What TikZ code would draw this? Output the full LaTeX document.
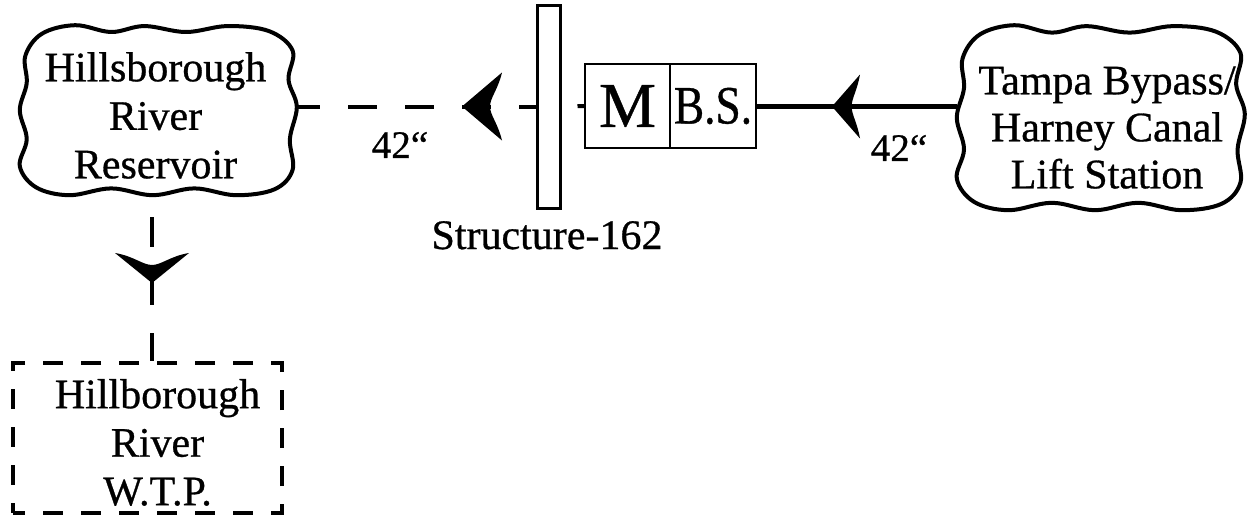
\documentclass[tikz,border=0pt]{standalone}
\usepackage{fontspec}
\setmainfont{Liberation Serif}[FakeBold=0.7]
\tikzset{
  lbl/.style={font=\fontsize{42}{48.5}\selectfont, align=center, inner sep=0pt},
  cloudline/.style={line width=4pt, line join=round},
  pipe/.style={line width=4pt},
  dashpipe/.style={pipe, dash pattern=on 29pt off 28pt},
  boxpart/.style={draw, line width=2pt, inner sep=0pt, minimum height=84pt},
  qlabel/.style={font=\fontsize{39}{39}\selectfont, inner sep=0pt},
  pics/fishtip/.style n args={3}{code={
    \fill (0,0) .. controls ({-0.3*#1},{0.3*#2}) and ({-0.7*#1},{0.7*#2}) .. ({-#1},{#2})
      .. controls ({-0.9*#1},{0.5*#2}) and ({-#3*#1},{0.25*#2}) .. ({-#3*#1},0)
      .. controls ({-#3*#1},{-0.25*#2}) and ({-0.9*#1},{-0.5*#2}) .. ({-#1},{-#2})
      .. controls ({-0.7*#1},{-0.7*#2}) and ({-0.3*#1},{-0.3*#2}) .. (0,0) -- cycle;
  }}
}
\newcommand{\cloudpts}{(0.02,0.82) (0.08,0.95) (0.2,1.0) (0.33,0.96) (0.45,0.995) (0.6,0.96) (0.75,0.995) (0.9,0.965) (0.985,0.85) (0.97,0.68) (1.0,0.52) (0.975,0.33) (0.985,0.15) (0.92,0.035) (0.78,0.0) (0.63,0.04) (0.48,0.0) (0.33,0.04) (0.18,0.0) (0.06,0.045) (0.0,0.17) (0.025,0.33) (0.0,0.5) (0.025,0.66)}
\begin{document}
\begin{tikzpicture}[x=1pt,y=1pt]
\fill[white] (0,0) rectangle (1247,-522);
\useasboundingbox (0,0) rectangle (1247,-522);

% clouds (text nodes + outlines)
\node[lbl, minimum width=277pt, minimum height=170pt] (res) at (158.5,-110)
  {\rule{0pt}{40pt}\hspace*{-6pt}Hillsborough\\\hspace*{-6pt}River\\\hspace*{-6pt}Reservoir};
\node[lbl, font=\fontsize{42}{47}\selectfont, minimum width=288pt, minimum height=185pt] (lift) at (1101,-117.5)
  {\rule{0pt}{48pt}\hspace*{12pt}Tampa Bypass/\\\hspace*{12pt}Harney Canal\\\hspace*{12pt}Lift Station};
\begin{scope}[shift={(res.south west)}, xscale=277, yscale=170]
  \draw[cloudline] plot[smooth cycle, tension=0.6] coordinates {\cloudpts};
\end{scope}
\begin{scope}[shift={(lift.south west)}, xscale=288, yscale=185]
  \draw[cloudline] plot[smooth cycle, tension=0.6] coordinates {\cloudpts};
\end{scope}

% structure bar and meter box
\node[draw, line width=3pt, minimum width=23pt, minimum height=203pt, inner sep=0pt] (bar) at (548.5,-106.5) {};
\node[lbl, anchor=base] (slab) at (547,-249) {Structure-162};
\node[boxpart, minimum width=85pt, font=\fontsize{64}{64}\selectfont] (m) at (627.5,-106) {M};
\node[boxpart, minimum width=86pt, font=\fontsize{54}{54}\selectfont] (bs) at (713,-106) {\scalebox{0.84}[1]{B.S.}};

% water treatment plant
\node[lbl, draw, line width=4pt, dash pattern=on 20pt off 18pt, dash phase=8pt,
      minimum width=269pt, minimum height=150pt] (wtp) at (147.5,-438)
  {\rule{0pt}{38pt}\hspace*{20pt}Hillborough\\\hspace*{20pt}River\\\hspace*{20pt}W.T.P.};

% connectors
\draw[dashpipe, dash phase=6pt] (res.east |- bar.west) -- (bar.west);
\draw[dashpipe, dash phase=41pt] (bar.east) -- (m.west);
\draw[pipe, line width=5pt] (lift.west |- bs.east) -- (bs.east);
\draw[pipe, dash pattern=on 30pt off 28pt, dash phase=36pt] ([xshift=-6.5pt]res.south) -- ([xshift=4.5pt]wtp.north);

% arrowheads
\pic[rotate=180] at (462,-106.5) {fishtip={40}{34}{0.7}};
\pic[rotate=180] at (832,-106.5) {fishtip={28}{32}{0.7}};
\pic[rotate=-90] at (152,-283) {fishtip={30}{37}{0.6}};

% pipe size labels
\node[qlabel] (q1) at (400,-145) {42“};
\node[qlabel] (q2) at (899,-148) {42“};
\end{tikzpicture}
\end{document}
